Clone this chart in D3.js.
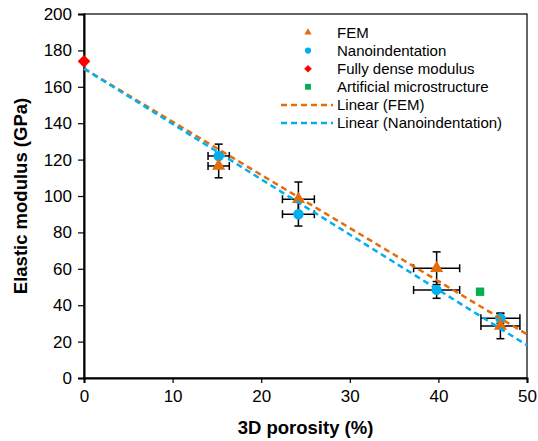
<!DOCTYPE html>
<html><head><meta charset="utf-8">
<script src="https://cdn.jsdelivr.net/npm/d3@7"></script>
<style>body{margin:0;background:#fff}svg{display:block;font-family:"Liberation Sans",Arial,Helvetica,sans-serif}</style>
</head><body>
<svg id="c" width="538" height="441"></svg>
<script>
// ---- data ----
const xTicks = [0, 10, 20, 30, 40, 50];
const yTicks = [0, 20, 40, 60, 80, 100, 120, 140, 160, 180, 200];
const femX = [15.2, 24.2, 39.8, 47.0];
const femY = [116.5, 98.2, 60.3, 28.6];
const femYErr = [6.5, 9.5, 9.0, 7.0];
const femXErr = [1.2, 1.8, 2.6, 2.2];
const nanoX = [15.2, 24.2, 39.8, 47.0];
const nanoY = [122, 90, 48.4, 32.8];
const nanoYErr = [6.5, 6.5, 4.6, 2.7];
const nanoXErr = [1.2, 1.8, 2.6, 2.2];
const denseX = [0];
const denseY = [174];
const artX = [44.7];
const artY = [47.4];
const femFitX = [0, 50];
const femFitY = [170, 24];
const nanoFitX = [0, 50];
const nanoFitY = [170, 18];
const legendLabels = ["FEM", "Nanoindentation", "Fully dense modulus", "Artificial microstructure", "Linear (FEM)", "Linear (Nanoindentation)"];

const C = {fem: "#E46C0A", nano: "#00B0F0", dense: "#FF0000", art: "#00B050"};

const svg = d3.select("#c");
const L = 84, R = 527, T = 14, B = 378;
const x = d3.scaleLinear().domain([0, 50]).range([L, R]);
const y = d3.scaleLinear().domain([0, 200]).range([B, T]);

// frame
svg.append("rect").attr("x", L).attr("y", T).attr("width", R - L).attr("height", B - T)
  .attr("fill", "none").attr("stroke", "#000").attr("stroke-width", 1.2);

// axes
const xa = svg.append("g").attr("transform", `translate(0,${B})`)
  .call(d3.axisBottom(x).tickValues(xTicks).tickSize(5).tickPadding(7));
const ya = svg.append("g").attr("transform", `translate(${L},0)`)
  .call(d3.axisLeft(y).tickValues(yTicks).tickSize(6).tickPadding(6));
[xa, ya].forEach(g => {
  g.selectAll("path.domain").attr("stroke", "#000").attr("stroke-width", 2);
  g.selectAll(".tick line").attr("stroke", "#000").attr("stroke-width", 1.2);
  g.selectAll("text").attr("font-size", 17).attr("fill", "#000")
    .attr("font-family", '"Liberation Sans",Arial,sans-serif');
});

// titles
svg.append("text").attr("x", (L + R) / 2).attr("y", 434).attr("text-anchor", "middle")
  .attr("font-size", 18.5).attr("font-weight", "bold").text("3D porosity (%)");
svg.append("text").attr("transform", `translate(27,${(T + B) / 2}) rotate(-90)`)
  .attr("text-anchor", "middle").attr("font-size", 18.5).attr("font-weight", "bold")
  .text("Elastic modulus (GPa)");

// error bars
function errBars(xs, ys, xe, ye) {
  const g = svg.append("g").attr("stroke", "#000").attr("stroke-width", 1.5).attr("fill", "none");
  const cap = 4;
  xs.forEach((xv, i) => {
    const cx = x(xv), cy = y(ys[i]);
    const y0 = y(ys[i] - ye[i]), y1 = y(ys[i] + ye[i]);
    const x0 = x(xv - xe[i]), x1 = x(xv + xe[i]);
    g.append("line").attr("x1", cx).attr("x2", cx).attr("y1", y0).attr("y2", y1);
    g.append("line").attr("x1", cx - cap).attr("x2", cx + cap).attr("y1", y0).attr("y2", y0);
    g.append("line").attr("x1", cx - cap).attr("x2", cx + cap).attr("y1", y1).attr("y2", y1);
    g.append("line").attr("x1", x0).attr("x2", x1).attr("y1", cy).attr("y2", cy);
    g.append("line").attr("x1", x0).attr("x2", x0).attr("y1", cy - cap).attr("y2", cy + cap);
    g.append("line").attr("x1", x1).attr("x2", x1).attr("y1", cy - cap).attr("y2", cy + cap);
  });
}
errBars(nanoX, nanoY, nanoXErr, nanoYErr);
errBars(femX, femY, femXErr, femYErr);

const sym = {
  tri: d3.symbol().type(d3.symbolTriangle).size(75),
  circ: d3.symbol().type(d3.symbolCircle).size(85),
  dia: d3.symbol().type(d3.symbolSquare).size(80),
  sq: d3.symbol().type(d3.symbolSquare).size(70)
};
function points(xs, ys, s, col, rot) {
  svg.append("g").selectAll("path").data(xs).join("path")
    .attr("d", s).attr("fill", col)
    .attr("transform", (d, i) => `translate(${x(d)},${y(ys[i])})` + (rot ? ` rotate(${rot})` : ""));
}
points(nanoX, nanoY, sym.circ, C.nano);
points(femX, femY, sym.tri, C.fem);
points(artX, artY, sym.sq, C.art);

// trend lines
const line = d3.line().x(d => x(d[0])).y(d => y(d[1]));
svg.append("path").datum(femFitX.map((v, i) => [v, femFitY[i]])).attr("d", line)
  .attr("stroke", C.fem).attr("stroke-width", 2.5).attr("stroke-dasharray", "6,4").attr("fill", "none");
svg.append("path").datum(nanoFitX.map((v, i) => [v, nanoFitY[i]])).attr("d", line)
  .attr("stroke", C.nano).attr("stroke-width", 2.5).attr("stroke-dasharray", "6,4").attr("fill", "none");

points(denseX, denseY, sym.dia, C.dense, 45);

// legend
const lg = svg.append("g");
const lx = 308, tx = 337, ly0 = 32.5, dy = 18.1;
const legSyms = [[sym.tri, C.fem, 0], [sym.circ, C.nano, 0], [sym.dia, C.dense, 45], [sym.sq, C.art, 0]];
legendLabels.forEach((t, i) => {
  const yy = ly0 + i * dy;
  if (i < 4) {
    const sc = [0.55, 0.6, 0.6, 0.7][i];
    lg.append("path").attr("d", legSyms[i][0]).attr("fill", legSyms[i][1])
      .attr("transform", `translate(${lx},${yy}) scale(${sc}) rotate(${legSyms[i][2]})`);
  } else {
    lg.append("line").attr("x1", 281).attr("x2", 333).attr("y1", yy).attr("y2", yy)
      .attr("stroke", i === 4 ? C.fem : C.nano).attr("stroke-width", 2.5).attr("stroke-dasharray", "6,4");
  }
  lg.append("text").attr("x", tx).attr("y", yy).attr("dy", "0.35em").attr("font-size", 15).text(t);
});
</script>
</body></html>
